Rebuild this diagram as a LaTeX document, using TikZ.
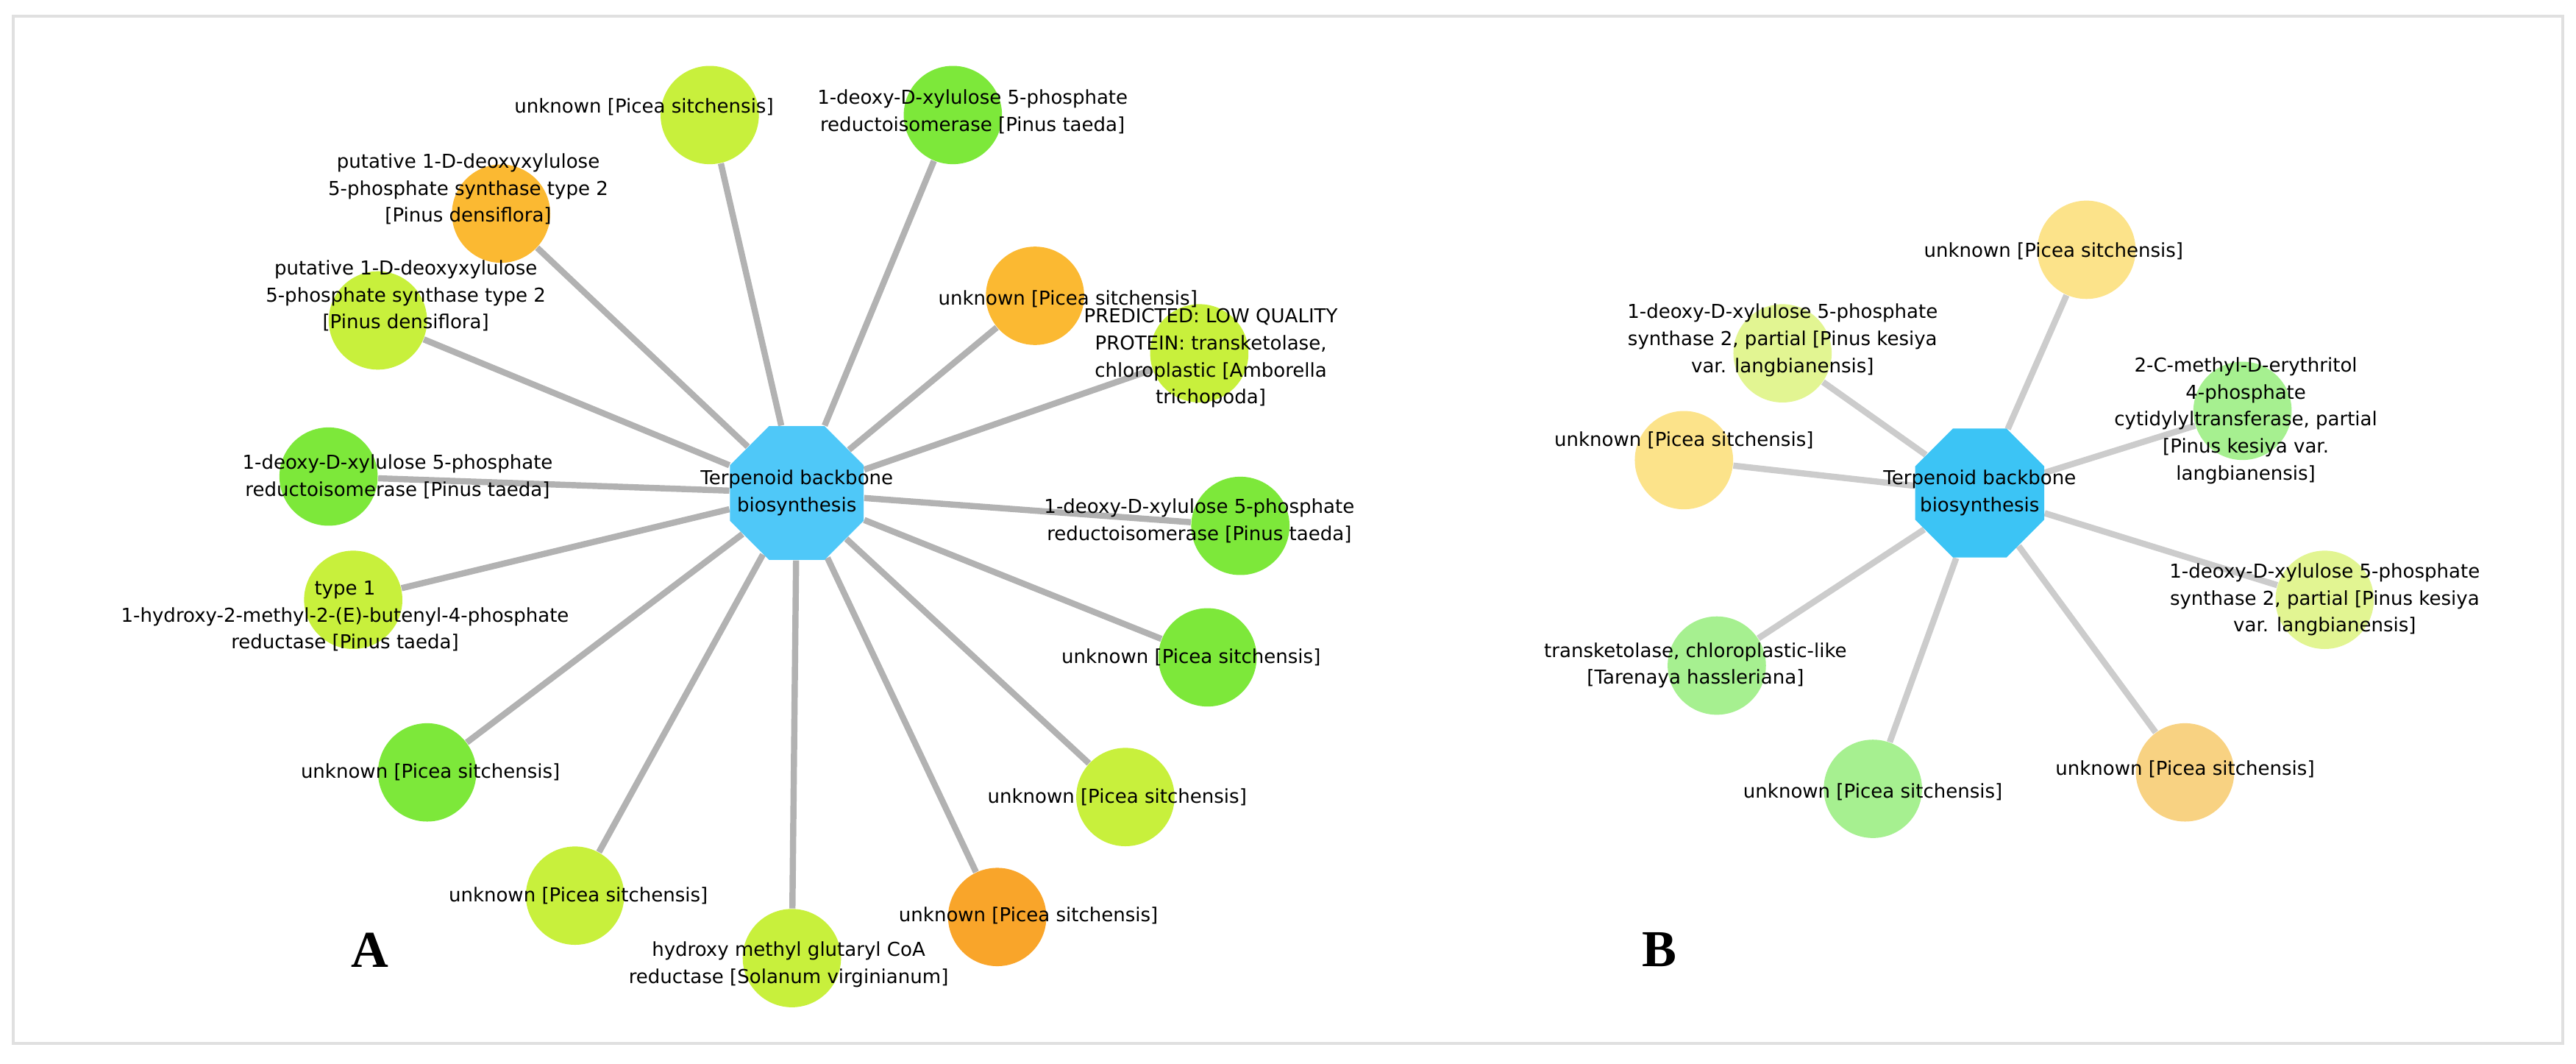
\documentclass[tikz,border=0pt]{standalone}
\usepackage{fontspec}
\setmainfont{DejaVu Sans}
\usetikzlibrary{shapes.geometric,backgrounds}
\definecolor{yg}{HTML}{C8F03C}
\definecolor{gr}{HTML}{7DE83A}
\definecolor{orA}{HTML}{FBB932}
\definecolor{orB}{HTML}{F9A52A}
\definecolor{hub}{HTML}{4FC8F8}
\definecolor{hubB}{HTML}{3CC4F5}
\definecolor{ly}{HTML}{FCE38A}
\definecolor{lg}{HTML}{A6F090}
\definecolor{lyg}{HTML}{E2F592}
\definecolor{lo}{HTML}{F8D282}
\tikzset{
 c/.style={circle,minimum size=38pt,inner sep=0pt,fill=#1},
 hb/.style={regular polygon,regular polygon sides=8,minimum size=56pt,inner sep=0pt,fill=#1},
 lb/.style={font=\fontsize{7.4}{10.4}\selectfont,align=center,inner sep=0pt},
 eA/.style={draw=black!30,line width=2.4pt},
 eB/.style={draw=black!20,line width=2.4pt}
}
\newfontfamily\timesf{Liberation Serif}
\begin{document}
\begin{tikzpicture}[x=0.02233cm,y=-0.02233cm]
\useasboundingbox (0,0) rectangle (1568,647);
\draw[black!12,line width=1.2pt] (8,10) rectangle (1560,635);
% Panel A
\node[hb=hub] (hA) at (485,300) {};
\foreach \n/\x/\y/\col in {1/432/70/yg,2/580/70/gr,3/305/130/orA,4/630/180/orA,5/230/195/yg,6/730/215/yg,7/200/290/gr,8/755/320/gr,9/215/365/yg,10/735/400/gr,11/260/470/gr,12/685/485/yg,13/350/545/yg,14/607/558/orB,15/482/583/yg}
 {\node[c=\col] (a\n) at (\x,\y) {};}
\begin{scope}[on background layer]
\foreach \n in {1,...,15} {\draw[eA] (hA) -- (a\n);}
\end{scope}
\node[lb] (la0) at (485,300) {Terpenoid backbone\\biosynthesis};
\node[lb] (la1) at (392,65) {unknown [Picea sitchensis]};
\node[lb] (la2) at (592,68) {1-deoxy-D-xylulose 5-phosphate\\reductoisomerase [Pinus taeda]};
\node[lb] (la3) at (285,115) {putative 1-D-deoxyxylulose\\5-phosphate synthase type 2\\{}[Pinus densiflora]};
\node[lb] (la4) at (650,182) {unknown [Picea sitchensis]};
\node[lb] (la5) at (247,180) {putative 1-D-deoxyxylulose\\5-phosphate synthase type 2\\{}[Pinus densiflora]};
\node[lb] (la6) at (737,218) {PREDICTED: LOW QUALITY\\PROTEIN: transketolase,\\chloroplastic [Amborella\\trichopoda]};
\node[lb] (la7) at (242,290) {1-deoxy-D-xylulose 5-phosphate\\reductoisomerase [Pinus taeda]};
\node[lb] (la8) at (730,317) {1-deoxy-D-xylulose 5-phosphate\\reductoisomerase [Pinus taeda]};
\node[lb] (la9) at (210,375) {type 1\\1-hydroxy-2-methyl-2-(E)-butenyl-4-phosphate\\reductase [Pinus taeda]};
\node[lb] (la10) at (725,400) {unknown [Picea sitchensis]};
\node[lb] (la11) at (262,470) {unknown [Picea sitchensis]};
\node[lb] (la12) at (680,485) {unknown [Picea sitchensis]};
\node[lb] (la13) at (352,545) {unknown [Picea sitchensis]};
\node[lb] (la14) at (626,557) {unknown [Picea sitchensis]};
\node[lb] (la15) at (480,587) {hydroxy methyl glutaryl CoA\\reductase [Solanum virginianum]};
\node[font=\fontsize{20}{20}\selectfont\bfseries\timesf] (A) at (225,578) {A};
% Panel B
\node[hb=hubB,minimum size=54pt] (hB) at (1205,300) {};
\foreach \n/\x/\y/\col in {1/1270/152/ly,2/1085/215/lyg,3/1365/250/lg,4/1025/280/ly,5/1415/365/lyg,6/1045/405/lg,7/1330/470/lo,8/1140/480/lg}
 {\node[c=\col] (b\n) at (\x,\y) {};}
\begin{scope}[on background layer]
\foreach \n in {1,...,8} {\draw[eB] (hB) -- (b\n);}
\end{scope}
\node[lb] (lb0) at (1205,300) {Terpenoid backbone\\biosynthesis};
\node[lb] (lb1) at (1250,153) {unknown [Picea sitchensis]};
\node[lb] (lb2) at (1085,207) {1-deoxy-D-xylulose 5-phosphate\\synthase 2, partial [Pinus kesiya\\var. langbianensis]};
\node[lb] (lb3) at (1367,256) {2-C-methyl-D-erythritol\\4-phosphate\\cytidylyltransferase, partial\\{}[Pinus kesiya var.\\langbianensis]};
\node[lb] (lb4) at (1025,268) {unknown [Picea sitchensis]};
\node[lb] (lb5) at (1415,365) {1-deoxy-D-xylulose 5-phosphate\\synthase 2, partial [Pinus kesiya\\var. langbianensis]};
\node[lb] (lb6) at (1032,405) {transketolase, chloroplastic-like\\{}[Tarenaya hassleriana]};
\node[lb] (lb7) at (1330,468) {unknown [Picea sitchensis]};
\node[lb] (lb8) at (1140,482) {unknown [Picea sitchensis]};
\node[font=\fontsize{20}{20}\selectfont\bfseries\timesf] (B) at (1010,578) {B};
\end{tikzpicture}
\end{document}
